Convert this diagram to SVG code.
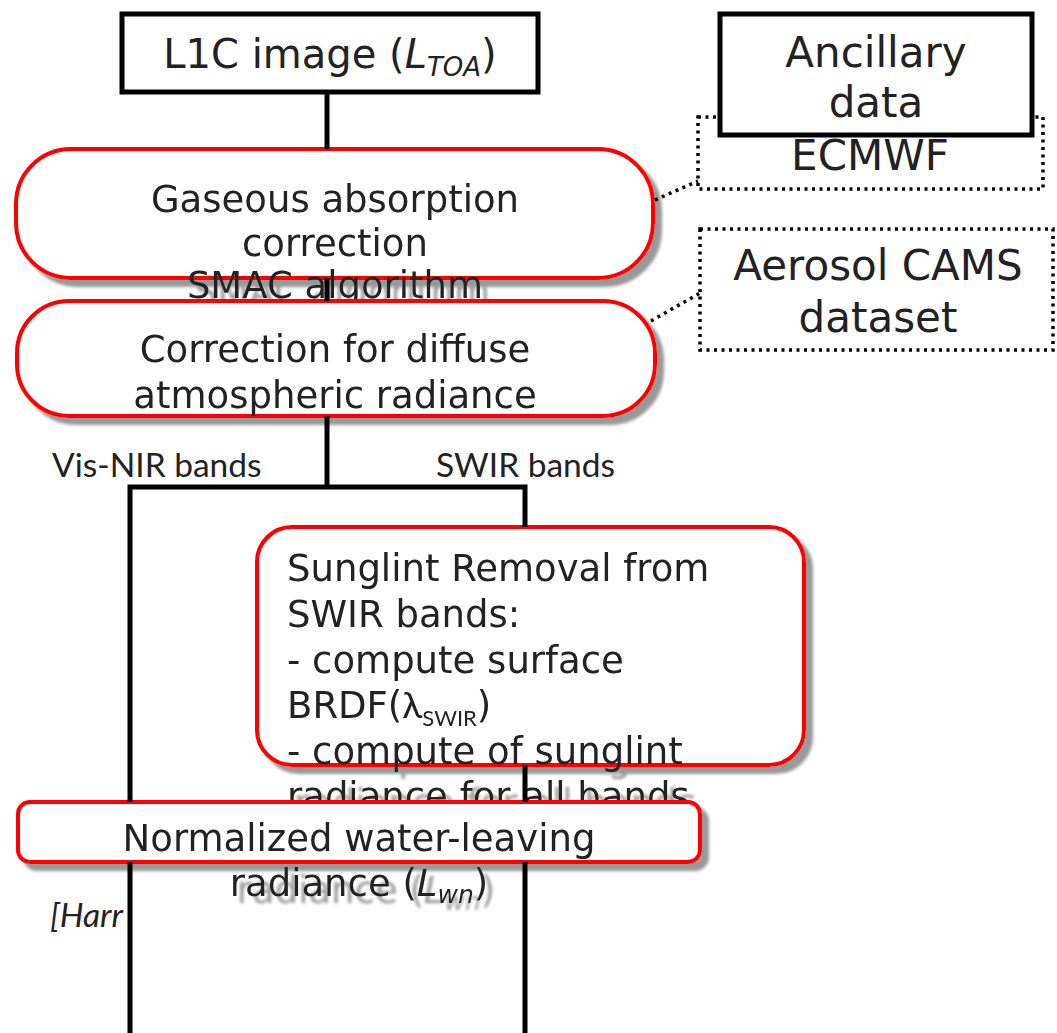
<svg xmlns="http://www.w3.org/2000/svg" width="1057" height="1033" viewBox="0 0 1057 1033">
<style>
.t{font-family:"DejaVu Sans",sans-serif;fill:#222;}
.c{text-anchor:middle;}
.f37{font-size:37px;}
.f42{font-size:42px;}
.lab{font-family:Lato,"Open Sans",sans-serif;fill:#222;font-size:33.5px;}
.blk{fill:#fff;stroke:#000;stroke-width:5;}
.dot{fill:#fff;stroke:#000;stroke-width:3.5;stroke-dasharray:3 4.5;}
.red{fill:#fff;stroke:#f00;stroke-width:4;}
.ln{stroke:#000;stroke-width:5;fill:none;}
.dl{stroke:#000;stroke-width:3.5;stroke-dasharray:3 4.5;fill:none;}
</style>
<defs>
<filter id="sh" x="-10%" y="-20%" width="130%" height="170%">
<feGaussianBlur in="SourceAlpha" stdDeviation="1.8"/>
<feOffset dx="7" dy="7" result="b"/>
<feFlood flood-color="#999"/>
<feComposite in2="b" operator="in"/>
<feMerge><feMergeNode/><feMergeNode in="SourceGraphic"/></feMerge>
</filter>
</defs>
<rect width="1057" height="1033" fill="#fff"/>

<g id="l1c">
<rect class="blk" x="122" y="14" width="416" height="78"/>
<text class="t c" x="330" y="68" font-size="40">L1C image (<tspan font-style="italic">L</tspan><tspan font-style="italic" font-size="26" dy="8">TOA</tspan><tspan dy="-8">)</tspan></text>
</g>

<g id="ecmwf">
<rect class="dot" x="698" y="117" width="345" height="72"/>
<text class="t c f42" x="870" y="170">ECMWF</text>
</g>

<g id="ancillary">
<rect class="blk" x="720" y="14" width="312" height="121"/>
<text class="t c f42" x="876" y="67">Ancillary</text>
<text class="t c f42" x="876" y="117">data</text>
</g>

<g id="aerosol">
<rect class="dot" x="700" y="229" width="353" height="121"/>
<text class="t c f42" x="878" y="280">Aerosol CAMS</text>
<text class="t c f42" x="878" y="332">dataset</text>
</g>

<g id="gaseous" filter="url(#sh)">
<rect class="red" x="16" y="149" width="637" height="129" rx="55"/>
<text class="t c f37" x="335" y="212">Gaseous absorption</text>
<text class="t c f37" x="335" y="256">correction</text>
<text class="t c f37" x="335" y="298">SMAC algorithm</text>
</g>

<g id="diffuse" filter="url(#sh)">
<rect class="red" x="17" y="301" width="638" height="115" rx="52"/>
<text class="t c f37" x="335" y="362">Correction for diffuse</text>
<text class="t c f37" x="335" y="408">atmospheric radiance</text>
</g>

<g id="sunglint" filter="url(#sh)">
<rect class="red" x="257" y="527" width="547" height="238" rx="35"/>
<text class="t f37" x="287" y="581">Sunglint Removal from</text>
<text class="t f37" x="287" y="627">SWIR bands:</text>
<text class="t f37" x="287" y="673">- compute surface</text>
<text class="t f37" x="287" y="718">BRDF(<tspan font-family="Lato,sans-serif">λ</tspan><tspan font-family="Lato,sans-serif" font-size="22" dy="8">SWIR</tspan><tspan dy="-8">)</tspan></text>
<text class="t f37" x="287" y="764">- compute of sunglint</text>
<text class="t f37" x="287" y="809">radiance for all bands</text>
</g>

<g id="normalized" filter="url(#sh)">
<rect class="red" x="18" y="802" width="682" height="60" rx="12"/>
<text class="t c f37" x="359" y="851">Normalized water-leaving</text>
<text class="t c f37" x="359" y="896">radiance (<tspan font-style="italic">L</tspan><tspan font-style="italic" font-size="25" dy="7">wn</tspan><tspan dy="-7">)</tspan></text>
</g>

<g id="labels">
<text class="lab" x="52" y="477">Vis-NIR bands</text>
<text class="lab" x="436" y="477">SWIR bands</text>
<text class="lab" x="50" y="927" font-style="italic">[Harr</text>
</g>

<g id="connectors">
<line class="ln" x1="327" y1="92" x2="327" y2="149"/>
<line class="ln" x1="327" y1="278" x2="327" y2="301"/>
<line class="ln" x1="327" y1="416" x2="327" y2="487"/>
<polyline class="ln" points="130,802 130,487 525,487 525,527"/>
<line class="ln" x1="130" y1="862" x2="130" y2="1033"/>
<line class="ln" x1="525" y1="765" x2="525" y2="802"/>
<line class="ln" x1="525" y1="862" x2="525" y2="1033"/>
<line class="dl" x1="655" y1="200" x2="698" y2="181"/>
<line class="dl" x1="651" y1="321" x2="700" y2="293"/>
</g>
</svg>
